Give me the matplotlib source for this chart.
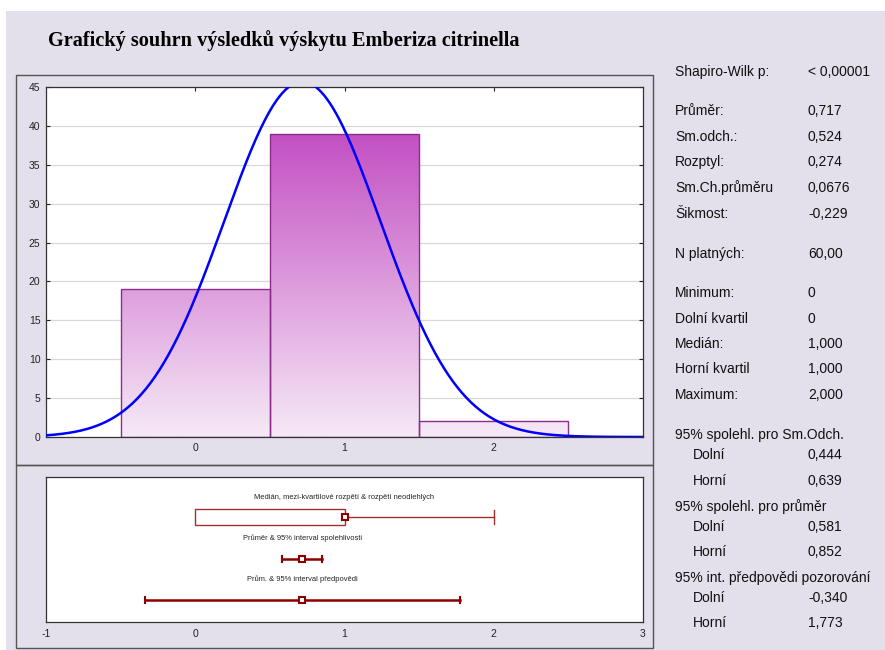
import numpy as np
import matplotlib
matplotlib.use("Agg")
import matplotlib.pyplot as plt
from matplotlib.patches import Rectangle
from matplotlib.colors import LinearSegmentedColormap
from matplotlib import font_manager

plt.rcParams['font.family'] = ['Liberation Sans', 'DejaVu Sans']
plt.rcParams['axes.unicode_minus'] = False

# ---------------- data ----------------
bin_centers = [0, 1, 2]
bin_counts = [19, 39, 2]
bin_width = 1.0
n_valid = 60
mean_val = 0.717
sd_val = 0.524
q_min, q1, q_med, q3, q_max = 0.0, 0.0, 1.0, 1.0, 2.0
ci_mean = (0.581, 0.852)
pred_int = (-0.340, 1.773)
y_ticks = [0, 5, 10, 15, 20, 25, 30, 35, 40, 45]
x_ticks_top = [0, 1, 2]
x_ticks_bottom = [-1, 0, 1, 2, 3]

stat_labels = ["Shapiro-Wilk p:", "Průměr:", "Sm.odch.:", "Rozptyl:", "Sm.Ch.průměru",
               "Šikmost:", "N platných:", "Minimum:", "Dolní kvartil", "Medián:",
               "Horní kvartil", "Maximum:", "95% spolehl. pro Sm.Odch.", "Dolní", "Horní",
               "95% spolehl. pro průměr", "Dolní", "Horní",
               "95% int. předpovědi pozorování", "Dolní", "Horní"]
stat_values = ["< 0,00001", "0,717", "0,524", "0,274", "0,0676", "-0,229", "60,00",
               "0", "0", "1,000", "1,000", "2,000", "", "0,444", "0,639", "",
               "0,581", "0,852", "", "-0,340", "1,773"]
stat_y = [71, 110, 136, 161, 187, 213, 253, 292, 318, 343, 368, 394, 434, 454, 480,
          506, 526, 551, 577, 597, 622]
stat_indent = [False]*13 + [True, True, False, True, True, False, True, True]

title = "Grafický souhrn výsledků výskytu Emberiza citrinella"

# ---------------- figure ----------------
W, H = 885, 650
fig = plt.figure(figsize=(W/100, H/100), dpi=100)
fig.patch.set_facecolor('white')
lav = '#E3DFEB'

def fx(x): return x / W
def fy(y): return 1 - y / H

fig.add_artist(Rectangle((fx(6), 0), 1 - fx(6), fy(11), transform=fig.transFigure,
                         facecolor=lav, edgecolor='none', zorder=0))
for (x0, y0, x1, y1) in [(16, 75, 653, 465), (16, 465, 653, 648)]:
    fig.add_artist(Rectangle((fx(x0), fy(y1)), fx(x1 - x0), (y1 - y0) / H,
                             transform=fig.transFigure, facecolor='none',
                             edgecolor='#555555', lw=1.0, zorder=1))

fig.text(fx(48), fy(46), title, family=['Liberation Serif'], fontweight='bold',
         fontsize=14.6, va='baseline', ha='left')

# ---------------- histogram ----------------
ax = fig.add_axes([fx(46), fy(437), fx(643 - 46), (437 - 87) / H])
ax.set_xlim(-1, 3)
ax.set_ylim(0, 45)
ax.set_facecolor('white')
ax.set_yticks(y_ticks)
ax.set_xticks(x_ticks_top)
ax.grid(axis='y', color='#D8D8D8', lw=0.9)
ax.set_axisbelow(True)
ax.tick_params(axis='both', direction='in', labelsize=7.5, length=3,
               top=True, right=True, pad=4, colors='#222222')
for s in ax.spines.values():
    s.set_color('#333333')
    s.set_linewidth(0.9)

cmap = LinearSegmentedColormap.from_list('g', ['#F6EAF6', '#C34FC3'])
grad = np.linspace(0, 1, 256).reshape(-1, 1)
top_max = max(bin_counts)
for c, h in zip(bin_centers, bin_counts):
    x0 = c - bin_width / 2
    im = ax.imshow(grad, cmap=cmap, origin='lower', aspect='auto',
                   extent=(x0, x0 + bin_width, 0, top_max), zorder=2)
    rect = Rectangle((x0, 0), bin_width, h, facecolor='none',
                     edgecolor='#8E2C8E', lw=1.0, zorder=3)
    ax.add_patch(rect)
    im.set_clip_path(rect)

xs = np.linspace(-1, 3, 400)
ys = n_valid * bin_width / (sd_val * np.sqrt(2 * np.pi)) * np.exp(-0.5 * ((xs - mean_val) / sd_val) ** 2)
ax.plot(xs, ys, color='#0000FF', lw=1.8, zorder=4, clip_on=True)

# ---------------- lower summary ----------------
ax2 = fig.add_axes([fx(46), fy(622), fx(643 - 46), (622 - 477) / H])
ax2.set_xlim(-1, 3)
ax2.set_ylim(0, 1)
ax2.set_facecolor('white')
ax2.set_yticks([])
ax2.set_xticks(x_ticks_bottom)
ax2.tick_params(axis='x', length=0, labelsize=7.5, pad=5, colors='#222222')
for s in ax2.spines.values():
    s.set_color('#333333')
    s.set_linewidth(0.9)

names = {f.name for f in font_manager.fontManager.ttflist}
narrow = 'Liberation Sans Narrow' in names
lab_fam = ['Liberation Sans Narrow', 'Liberation Sans'] if narrow else ['Liberation Sans']
lab_fs = 6.6 if narrow else 5.4

red = '#8B0000'
lab_kw = dict(ha='center', va='center', fontsize=lab_fs, color='#222222', family=lab_fam)
ax2.text(1.0, 0.862, "Medián, mezi-kvartilové rozpětí & rozpětí neodlehlých", **lab_kw)
ax2.text(0.717, 0.579, "Průměr & 95% interval spolehlivosti", **lab_kw)
ax2.text(0.717, 0.297, "Prům. & 95% interval předpovědi", **lab_kw)

y1 = 0.724
bh = 0.11
ax2.add_patch(Rectangle((q1, y1 - bh / 2), q3 - q1, bh, facecolor='white',
                        edgecolor='#A03030', lw=1.0, zorder=2))
ax2.plot([q3, q_max], [y1, y1], color='#A03030', lw=1.0, zorder=2)
ax2.plot([q_max, q_max], [y1 - 0.045, y1 + 0.045], color='#A03030', lw=1.0)
ax2.plot([q_min, q1], [y1, y1], color='#A03030', lw=1.0, zorder=2)
ax2.plot([q_med], [y1], marker='s', ms=4.5, mfc='white', mec=red, mew=1.5, zorder=3)

for yy, (lo, hi) in [(0.434, ci_mean), (0.152, pred_int)]:
    ax2.plot([lo, hi], [yy, yy], color=red, lw=1.8, zorder=2)
    for e in (lo, hi):
        ax2.plot([e, e], [yy - 0.02, yy + 0.02], color=red, lw=1.5)
    ax2.plot([mean_val], [yy], marker='s', ms=4.5, mfc='white', mec=red, mew=1.5, zorder=3)

# ---------------- statistics text ----------------
for lab, val, y, ind in zip(stat_labels, stat_values, stat_y, stat_indent):
    fig.text(fx(693 if ind else 675), fy(y + 5), lab, fontsize=10, va='baseline',
             ha='left', color='#111111')
    if val:
        fig.text(fx(808), fy(y + 5), val, fontsize=10, va='baseline', ha='left',
                 color='#111111')

fig.savefig('out.png', dpi=100, facecolor=fig.get_facecolor())
